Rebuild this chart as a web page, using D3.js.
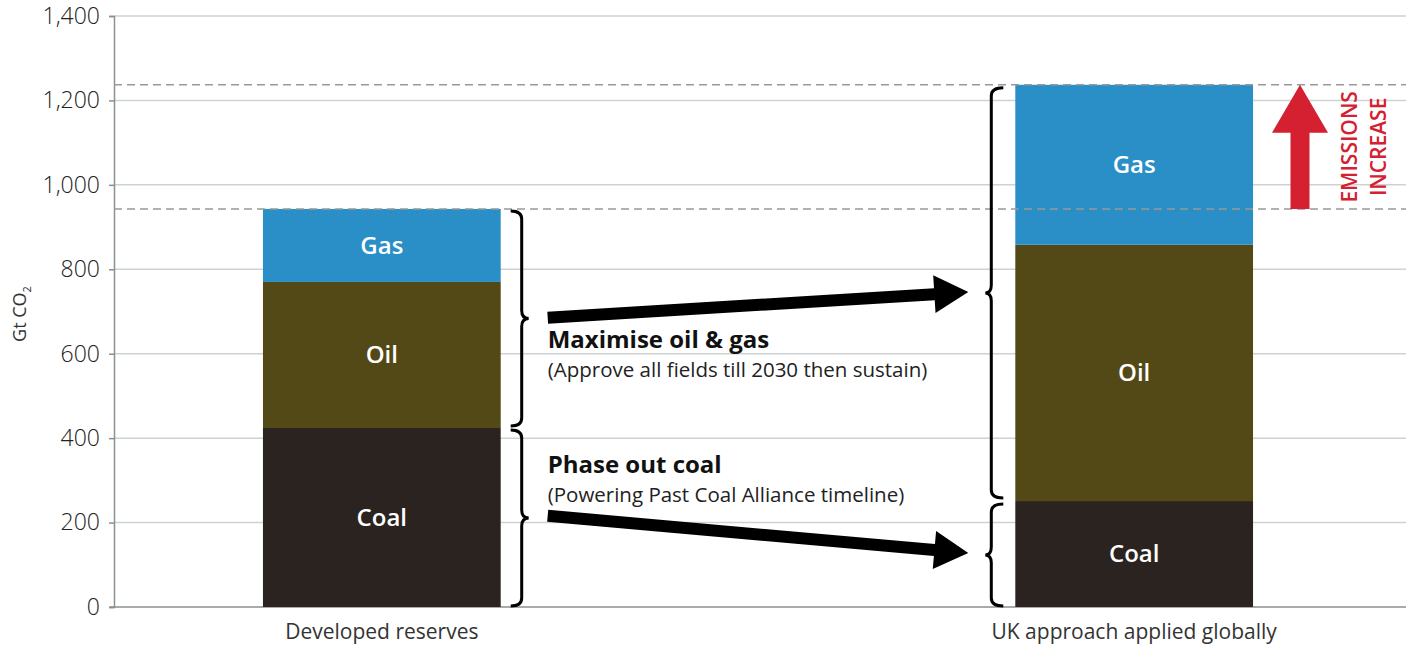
<!DOCTYPE html>
<html>
<head>
<meta charset="utf-8">
<script src="https://cdn.jsdelivr.net/npm/d3@7"></script>
<style>
  body { margin: 0; background: #fff; }
  svg { display: block; font-family: "Open Sans", "Noto Sans", sans-serif; }
</style>
</head>
<body>
<svg width="1406" height="648"></svg>
<script>
// data (Gt CO2)
var categories = ["Developed reserves", "UK approach applied globally"];
var coal = [424, 251];
var oil = [346, 607];
var gas = [173, 379];
var yTicks = [0, 200, 400, 600, 800, 1000, 1200, 1400];
var fuels = ["Coal", "Oil", "Gas"];
var fuelColors = ["#2b2320", "#534916", "#2a8fc6"];

var svg = d3.select("svg"),
    width = +svg.attr("width"),
    height = +svg.attr("height");

var plotLeft = 114, plotTop = 16, plotBottom = 607;

var y = d3.scaleLinear().domain([0, 1400]).range([plotBottom, plotTop]);
var x = d3.scaleBand().domain(categories).range([plotLeft, 1402])
    .paddingInner(0.684).paddingOuter(0.198);

// gridlines
svg.append("g")
    .selectAll("line")
    .data(yTicks.slice(1))
    .enter().append("line")
      .attr("x1", plotLeft).attr("x2", width)
      .attr("y1", function(d) { return y(d); })
      .attr("y2", function(d) { return y(d); })
      .attr("stroke", "#cfd2d2")
      .attr("stroke-width", 1.5);

// y axis
var yAxis = svg.append("g")
    .attr("transform", "translate(" + plotLeft + ",0)")
    .call(d3.axisLeft(y).tickValues(yTicks).tickSize(5).tickPadding(9)
        .tickFormat(d3.format(",")));
yAxis.select(".domain").attr("stroke", "#8a8f8f").attr("stroke-width", 1.5);
yAxis.selectAll(".tick line").attr("stroke", "#8a8f8f").attr("stroke-width", 1.5);
yAxis.selectAll(".tick text")
    .attr("font-size", 23).attr("font-weight", 300)
    .attr("fill", "#222").attr("font-family", "Open Sans, sans-serif");

// baseline
svg.append("line")
    .attr("x1", plotLeft - 4).attr("x2", width)
    .attr("y1", y(0)).attr("y2", y(0))
    .attr("stroke", "#8a8f8f").attr("stroke-width", 1.5);

// y title
var yt = svg.append("text")
    .attr("transform", "translate(26," + 314 + ") rotate(-90)")
    .attr("text-anchor", "middle")
    .attr("font-size", 18).attr("fill", "#333")
    .text("Gt CO");
yt.append("tspan").attr("font-size", 11).attr("dy", 5).text("2");

// stacked bars
var rows = categories.map(function(c, i) {
  return { cat: c, Coal: coal[i], Oil: oil[i], Gas: gas[i] };
});
var series = d3.stack().keys(fuels)(rows);

var layer = svg.append("g")
    .selectAll("g")
    .data(series)
    .enter().append("g")
      .attr("fill", function(d, i) { return fuelColors[i]; });

layer.selectAll("rect")
    .data(function(d) { return d; })
    .enter().append("rect")
      .attr("x", function(d) { return x(d.data.cat); })
      .attr("y", function(d) { return y(d[1]); })
      .attr("width", x.bandwidth())
      .attr("height", function(d) { return y(d[0]) - y(d[1]); });

layer.selectAll("text")
    .data(function(d) { return d.map(function(p) { return { p: p, key: d.key }; }); })
    .enter().append("text")
      .attr("x", function(d) { return x(d.p.data.cat) + x.bandwidth() / 2; })
      .attr("y", function(d) { return (y(d.p[0]) + y(d.p[1])) / 2; })
      .attr("dy", "0.35em")
      .attr("text-anchor", "middle")
      .attr("fill", "#fff")
      .attr("font-size", 24).attr("font-weight", 600)
      .text(function(d) { return d.key; });

// dashed totals
var totals = rows.map(function(r) { return r.Coal + r.Oil + r.Gas; });
svg.append("g")
    .selectAll("line")
    .data(totals)
    .enter().append("line")
      .attr("x1", plotLeft).attr("x2", width)
      .attr("y1", function(d) { return y(d); })
      .attr("y2", function(d) { return y(d); })
      .attr("stroke", "#999")
      .attr("stroke-width", 1.5)
      .attr("stroke-dasharray", "8,5");

// category labels
svg.append("g")
    .selectAll("text")
    .data(categories)
    .enter().append("text")
      .attr("x", function(d) { return x(d) + x.bandwidth() / 2; })
      .attr("y", 639)
      .attr("text-anchor", "middle")
      .attr("font-size", 21).attr("fill", "#333")
      .text(function(d) { return d; });

// braces
function brace(x0, xs, xp, y1, y2) {
  var ym = (y1 + y2) / 2, r = 8;
  return "M" + x0 + "," + y1 +
    " Q" + xs + "," + y1 + " " + xs + "," + (y1 + r) +
    " L" + xs + "," + (ym - r) +
    " Q" + xs + "," + ym + " " + xp + "," + ym +
    " Q" + xs + "," + ym + " " + xs + "," + (ym + r) +
    " L" + xs + "," + (y2 - r) +
    " Q" + xs + "," + y2 + " " + x0 + "," + y2;
}
var b1 = x(categories[0]) + x.bandwidth(), b2 = x(categories[1]);
var braces = [
  [b1 + 10, b1 + 21, b1 + 28, y(totals[0]) + 2, y(coal[0]) - 2],
  [b1 + 10, b1 + 21, b1 + 28, y(coal[0]) + 2, y(0) - 1],
  [b2 - 12, b2 - 24, b2 - 30, y(totals[1]) + 3, y(coal[1]) - 3],
  [b2 - 12, b2 - 24, b2 - 30, y(coal[1]) + 3, y(0) - 1]
];
svg.append("g")
    .selectAll("path")
    .data(braces)
    .enter().append("path")
      .attr("d", function(d) { return brace(d[0], d[1], d[2], d[3], d[4]); })
      .attr("fill", "none")
      .attr("stroke", "#000")
      .attr("stroke-width", 3);

// black arrows
function arrow(x1, y1, x2, y2, sw, hl, hw) {
  var dx = x2 - x1, dy = y2 - y1, L = Math.sqrt(dx * dx + dy * dy);
  var ux = dx / L, uy = dy / L, nx = -uy, ny = ux;
  var bx = x2 - ux * hl, by = y2 - uy * hl;
  var pts = [
    [x1 + nx * sw / 2, y1 + ny * sw / 2],
    [bx + nx * sw / 2, by + ny * sw / 2],
    [bx + nx * hw / 2, by + ny * hw / 2],
    [x2, y2],
    [bx - nx * hw / 2, by - ny * hw / 2],
    [bx - nx * sw / 2, by - ny * sw / 2],
    [x1 - nx * sw / 2, y1 - ny * sw / 2]
  ];
  return "M" + pts.join("L") + "Z";
}
var ax1 = b1 + 47, ax2 = b2 - 47;
svg.append("path").attr("d", arrow(ax1, y(685), ax2, y(746), 12, 34, 38)).attr("fill", "#000");
svg.append("path").attr("d", arrow(ax1, y(216), ax2, y(128), 12, 34, 38)).attr("fill", "#000");

// annotation text
var notes = [
  { t: "Maximise oil & gas", s: "(Approve all fields till 2030 then sustain)", y: 348 },
  { t: "Phase out coal", s: "(Powering Past Coal Alliance timeline)", y: 473 }
];
var ng = svg.append("g").selectAll("g").data(notes).enter().append("g");
ng.append("text")
    .attr("x", ax1).attr("y", function(d) { return d.y; })
    .attr("font-size", 24).attr("font-weight", 700).attr("fill", "#111")
    .text(function(d) { return d.t; });
ng.append("text")
    .attr("x", ax1).attr("y", function(d) { return d.y + 29; })
    .attr("font-size", 20.5).attr("fill", "#222")
    .text(function(d) { return d.s; });

// red emissions arrow
var rx = 1300;
svg.append("path")
    .attr("d", "M" + (rx - 9.5) + "," + y(totals[0]) +
      "L" + (rx - 9.5) + "," + (y(totals[1]) + 48) +
      "L" + (rx - 28) + "," + (y(totals[1]) + 48) +
      "L" + rx + "," + y(totals[1]) +
      "L" + (rx + 28) + "," + (y(totals[1]) + 48) +
      "L" + (rx + 9.5) + "," + (y(totals[1]) + 48) +
      "L" + (rx + 9.5) + "," + y(totals[0]) + "Z")
    .attr("fill", "#d42030");

svg.append("g")
    .selectAll("text")
    .data(["EMISSIONS", "INCREASE"])
    .enter().append("text")
      .attr("transform", function(d, i) {
        return "translate(" + (1357 + i * 29) + "," + (y(totals[0]) + y(totals[1])) / 2 + ") rotate(-90)";
      })
      .attr("text-anchor", "middle")
      .attr("font-size", 21).attr("font-weight", 600)
      .attr("fill", "#d42030")
      .text(function(d) { return d; });
</script>
</body>
</html>
